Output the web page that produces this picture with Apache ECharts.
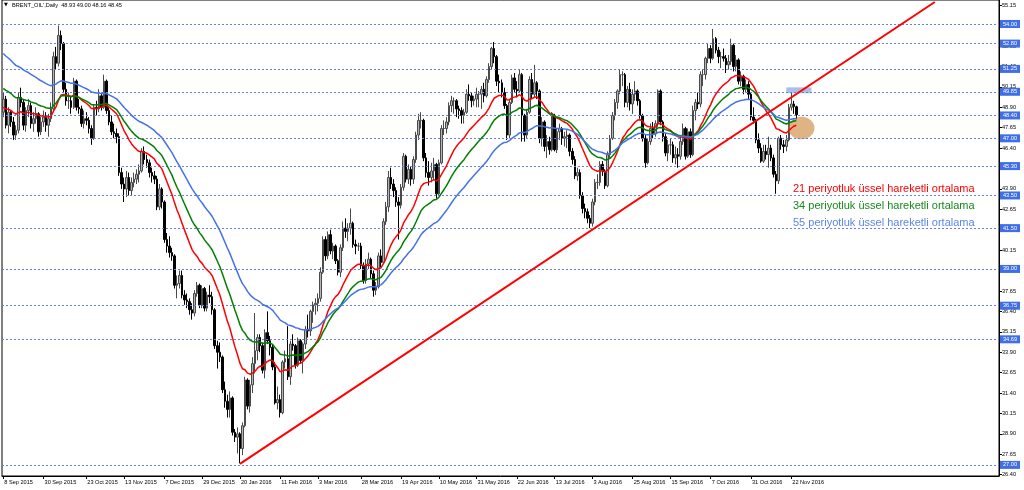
<!DOCTYPE html>
<html><head><meta charset="utf-8">
<script src="https://cdn.jsdelivr.net/npm/echarts@6/dist/echarts.min.js"></script>
<style>html,body{margin:0;padding:0;background:#fff}#c{width:1024px;height:490px}</style>
</head><body><div id="c"></div>
<script>
// ---------- DATA ----------
const symbolName = "BRENT_OIL',Daily";
const startDay = [2015, 8, 8];          // 8 Sep 2015
const holidays = ['2015-12-25', '2016-01-01'];
const slotCount = 396;                  // bars + empty space on the right
const xTickLabels = ['8 Sep 2015','30 Sep 2015','23 Oct 2015','13 Nov 2015','7 Dec 2015','29 Dec 2015','20 Jan 2016','11 Feb 2016','3 Mar 2016','28 Mar 2016','19 Apr 2016','10 May 2016','31 May 2016','22 Jun 2016','13 Jul 2016','3 Aug 2016','25 Aug 2016','15 Sep 2016','7 Oct 2016','31 Oct 2016','22 Nov 2016'];
const yTickValues = [26.40,27.65,28.90,30.15,31.40,32.65,33.90,35.15,36.40,37.65,38.90,40.15,41.40,42.65,43.90,45.15,46.40,47.65,48.90,50.15,51.40,52.65,53.90,55.15];
const levelPrices = [54.00,52.80,51.25,49.85,48.40,47.00,45.30,43.50,41.50,39.00,36.75,34.69,27.00];

const opens = [48.6,49.4,47.8,48.6,48.0,47.2,47.5,49.5,49.2,47.8,48.7,49.0,47.9,48.2,48.5,47.4,48.0,48.3,47.8,48.2,
48.8,52.0,51.6,53.3,52.8,50.0,49.3,49.3,48.9,50.5,48.9,48.8,47.9,48.2,48.1,47.6,47.0,48.9,48.8,49.6,
48.9,50.5,48.7,48.0,47.4,47.3,47.1,44.9,44.2,43.9,44.6,43.8,44.3,44.5,44.8,45.0,46.2,45.7,45.5,44.9,
44.7,44.5,42.8,43.9,43.1,40.8,40.4,40.0,39.8,38.0,38.1,38.6,37.4,37.1,37.0,36.5,36.3,37.5,38.0,36.8,
37.8,36.6,37.4,37.3,36.5,34.3,33.9,33.6,31.6,30.9,30.4,31.1,29.0,28.7,28.9,28.0,29.4,32.2,30.6,31.9,
33.2,34.0,34.8,34.3,32.8,35.1,34.6,34.2,33.0,30.8,31.0,30.2,33.3,33.5,32.4,34.4,34.3,33.1,34.6,33.4,
34.4,35.3,35.2,36.4,36.8,36.9,37.2,38.8,40.8,39.8,41.1,40.1,40.4,39.5,38.8,40.3,41.5,41.3,41.5,41.8,
40.5,40.4,40.4,39.2,38.3,39.3,39.6,38.7,37.7,37.9,39.8,39.4,41.9,42.8,44.6,44.2,43.8,43.1,42.9,44.0,
45.9,44.5,45.1,44.5,45.7,47.2,48.1,48.1,45.8,44.9,44.6,45.0,45.4,43.6,45.5,47.6,47.6,48.0,49.0,49.3,
49.3,48.8,48.7,48.4,48.6,49.7,49.6,49.3,49.4,49.7,49.7,50.0,49.6,50.6,51.4,52.5,52.0,50.5,50.4,49.8,
49.0,47.2,49.2,50.7,50.0,49.9,50.9,48.4,47.2,48.6,50.6,49.7,50.4,49.9,47.0,48.0,46.5,46.8,46.3,48.4,
46.3,47.4,47.6,47.0,47.1,47.2,46.2,45.7,44.7,44.9,43.5,42.7,42.5,42.1,41.8,43.1,44.3,44.3,45.4,45.0,
44.1,46.0,47.0,48.4,49.2,49.9,50.9,50.9,49.2,50.0,49.1,49.7,49.9,49.3,48.4,47.0,45.5,46.8,47.6,47.3,
47.9,49.9,48.0,47.1,46.1,46.6,46.6,45.8,46.0,45.9,46.8,47.6,45.9,47.4,46.0,48.7,49.2,49.1,50.9,50.9,
51.9,52.5,51.9,53.1,52.4,52.0,52.0,51.9,51.5,51.7,52.7,51.4,51.8,50.5,50.8,50.0,50.3,49.7,48.3,48.1,
46.9,46.4,45.6,46.2,46.0,46.4,45.8,44.8,44.4,47.0,46.6,46.5,46.9,48.9,49.1,48.93];

const highs = [49.8,49.6,48.9,48.7,48.3,47.8,49.8,50.1,49.4,48.9,49.4,49.2,48.6,48.9,48.6,48.3,48.7,48.6,48.5,49.2,
52.3,52.6,53.9,53.6,52.9,50.4,49.8,49.6,50.7,50.6,49.4,49.0,48.7,48.6,48.3,47.8,49.1,49.3,50.0,49.8,
50.9,50.6,48.9,48.4,47.9,47.6,47.3,45.2,44.6,45.0,44.9,44.6,44.9,45.1,45.4,46.4,46.5,46.0,45.7,45.2,
45.0,44.7,44.2,44.0,43.2,41.2,41.0,40.3,39.9,38.6,38.9,38.9,37.7,37.5,37.2,36.9,37.7,38.2,38.1,38.0,
37.9,37.6,38.0,37.6,36.6,34.6,34.5,33.7,32.1,31.3,31.5,31.2,29.2,29.3,29.0,29.6,32.4,32.3,32.2,33.6,
36.3,35.0,35.0,34.5,35.3,36.4,34.9,34.4,33.3,31.8,31.3,33.4,34.0,35.5,34.6,35.0,34.4,34.8,34.7,34.5,
35.5,36.2,36.5,37.0,37.2,37.5,39.1,41.0,41.0,41.3,41.4,40.6,40.5,39.6,40.5,41.9,42.1,41.8,42.7,41.9,
40.8,40.6,40.6,39.4,39.6,40.0,39.7,38.9,38.2,40.0,40.2,42.1,43.1,45.0,45.2,44.5,44.0,43.4,44.2,46.1,
46.0,45.4,45.3,45.9,47.4,48.5,48.6,48.2,46.1,45.6,45.5,45.8,45.5,45.7,47.8,48.1,48.3,49.2,49.6,49.5,
49.4,49.0,48.9,48.8,50.0,50.3,49.8,49.6,50.1,49.9,50.2,50.4,50.8,51.6,52.6,52.9,52.1,50.9,50.6,50.1,
49.1,49.4,50.9,51.0,50.5,51.2,51.0,48.5,48.8,50.8,51.0,51.5,50.5,50.0,48.3,48.1,47.2,47.1,48.6,48.5,
47.6,47.9,47.7,47.4,47.5,47.3,46.4,45.9,45.2,45.1,43.7,43.0,42.7,42.3,43.3,44.5,44.8,45.6,45.6,45.1,
46.2,47.2,48.6,49.4,50.0,51.2,51.1,51.0,50.2,50.4,50.0,50.5,50.0,49.4,48.5,47.2,47.0,47.9,48.0,48.1,
50.0,50.0,48.1,47.3,46.9,47.0,46.8,46.5,46.4,47.1,47.9,47.7,47.6,47.6,49.0,49.4,49.8,51.1,51.2,52.0,
52.8,52.7,53.7,53.2,52.6,52.3,52.5,52.1,52.1,53.1,52.8,52.1,51.9,51.1,50.9,50.6,50.5,49.8,48.9,48.2,
47.3,46.7,46.6,46.6,47.1,46.6,46.0,45.0,47.1,47.2,46.9,47.2,49.1,49.8,49.3,49.00];

const lows = [48.3,47.6,47.3,47.7,46.9,46.9,47.3,48.9,47.5,47.4,48.3,47.6,47.4,47.9,47.1,47.2,47.7,47.4,47.1,48.0,
48.7,51.2,51.4,52.4,49.8,49.0,48.8,48.5,48.8,48.7,48.5,47.7,47.6,47.8,47.3,46.6,46.9,48.4,48.6,48.7,
48.8,48.5,47.8,47.2,47.0,46.7,44.7,43.9,43.1,43.4,43.5,43.5,44.0,44.2,44.3,44.9,45.4,45.2,44.6,44.3,
44.2,42.6,42.6,42.7,40.6,40.0,39.7,39.5,37.8,37.2,37.8,37.2,36.8,36.6,36.2,35.9,36.1,37.3,36.6,36.6,
36.4,36.4,36.9,36.2,34.1,32.9,33.3,31.4,30.5,29.9,29.9,28.8,28.4,27.7,27.1,27.6,29.3,30.4,30.2,31.4,
32.6,33.4,33.9,32.6,32.3,34.4,33.7,32.8,30.7,30.4,29.9,30.1,32.9,32.2,31.9,34.0,32.9,33.0,33.2,32.6,
34.1,34.8,34.9,35.7,36.2,36.4,37.0,38.7,39.5,39.6,39.9,39.6,39.3,38.6,38.5,40.1,40.9,40.7,41.1,40.3,
39.9,40.1,39.0,38.1,38.1,39.0,38.4,37.3,37.4,37.8,39.1,39.3,41.7,42.5,43.9,43.4,42.8,40.8,42.7,43.8,
44.3,44.2,44.1,44.2,45.5,46.9,47.6,45.6,44.6,44.1,44.3,44.5,43.3,43.5,45.4,47.2,47.3,47.8,48.6,48.5,
48.3,48.2,47.9,47.9,48.5,49.3,48.9,49.0,48.9,48.9,48.8,49.2,49.5,50.4,51.2,51.6,50.2,49.8,49.5,48.8,
46.9,47.0,49.1,49.8,49.5,49.8,46.8,46.8,47.0,48.5,49.4,49.5,49.4,46.7,46.5,46.2,45.8,46.0,46.2,46.2,
46.1,46.9,46.6,46.5,46.4,45.9,45.4,44.5,44.4,43.3,42.4,42.1,41.8,41.5,41.6,42.9,43.9,44.1,44.7,43.9,
44.0,45.8,46.9,48.1,48.8,49.7,50.2,48.9,48.9,48.7,48.5,49.3,49.0,48.2,46.8,45.2,45.4,46.6,47.0,47.1,
47.7,47.8,46.8,45.9,45.6,46.0,45.5,45.4,45.2,45.7,46.6,45.7,45.8,45.8,45.9,48.1,48.8,48.9,50.2,50.6,
51.6,51.6,51.8,52.2,51.6,51.3,51.7,51.0,51.2,51.5,51.1,51.1,50.3,50.2,49.7,49.8,49.4,48.1,47.9,46.7,
46.1,45.5,45.5,45.7,45.2,45.6,44.6,43.6,44.2,46.3,46.1,46.2,46.8,48.7,48.5,48.16];

const closes = [49.4,47.8,48.6,48.0,47.2,47.5,49.5,49.2,47.8,48.7,49.0,47.9,48.2,48.5,47.4,48.0,48.3,47.8,48.2,48.8,
52.0,51.6,53.3,52.8,50.0,49.3,49.3,48.9,50.5,48.9,48.8,47.9,48.2,48.1,47.6,47.0,48.9,48.8,49.6,48.9,
50.5,48.7,48.0,47.4,47.3,47.1,44.9,44.2,43.9,44.6,43.8,44.3,44.5,44.8,45.0,46.2,45.7,45.5,44.9,44.7,
44.5,42.8,43.9,43.1,40.8,40.4,40.0,39.8,38.0,38.1,38.6,37.4,37.1,37.0,36.5,36.3,37.5,38.0,36.8,37.8,
36.6,37.4,37.3,36.5,34.3,33.9,33.6,31.6,30.9,30.4,31.1,29.0,28.7,28.9,28.0,29.4,32.2,30.6,31.9,33.2,
34.0,34.8,34.3,32.8,35.1,34.6,34.2,33.0,30.8,31.0,30.2,33.3,33.5,32.4,34.4,34.3,33.1,34.6,33.4,34.4,
35.3,35.2,36.4,36.8,36.9,37.2,38.8,40.8,39.8,41.1,40.1,40.4,39.5,38.8,40.3,41.5,41.3,41.5,41.8,40.5,
40.4,40.4,39.2,38.3,39.3,39.6,38.7,37.7,37.9,39.8,39.4,41.9,42.8,44.6,44.2,43.8,43.1,42.9,44.0,45.9,
44.5,45.1,44.5,45.7,47.2,48.1,48.1,45.8,44.9,44.6,45.0,45.4,43.6,45.5,47.6,47.6,48.0,49.0,49.3,49.3,
48.8,48.7,48.4,48.6,49.7,49.6,49.3,49.4,49.7,49.7,50.0,49.6,50.6,51.4,52.5,52.0,50.5,50.4,49.8,49.0,
47.2,49.2,50.7,50.0,49.9,50.9,48.4,47.2,48.6,50.6,49.7,50.4,49.9,47.0,48.0,46.5,46.8,46.3,48.4,46.3,
47.4,47.6,47.0,47.1,47.2,46.2,45.7,44.7,44.9,43.5,42.7,42.5,42.1,41.8,43.1,44.3,44.3,45.4,45.0,44.1,
46.0,47.0,48.4,49.2,49.9,50.9,50.9,49.2,50.0,49.1,49.7,49.9,49.3,48.4,47.0,45.5,46.8,47.6,47.3,47.9,
49.9,48.0,47.1,46.1,46.6,46.6,45.8,46.0,45.9,46.8,47.6,45.9,47.4,46.0,48.7,49.2,49.1,50.9,50.9,51.9,
52.5,51.9,53.1,52.4,52.0,52.0,51.9,51.5,51.7,52.7,51.4,51.8,50.5,50.8,50.0,50.3,49.7,48.3,48.1,46.9,
46.4,45.6,46.2,46.0,46.4,45.8,44.8,44.4,47.0,46.6,46.5,46.9,48.9,49.1,48.95,48.45];

// EMA values just before the first visible bar
const emaSpecs = [
  {period: 21, seed: 48.85, color: '#ff0000'},
  {period: 34, seed: 50.10, color: '#008000'},
  {period: 55, seed: 52.30, color: '#4472e6'}
];
const emaLegend = ['21 periyotluk üssel hareketli ortalama','34 periyotluk üssel hareketli ortalama','55 periyotluk üssel hareketli ortalama'];
const emaLegendColors = ['#ff0000','#15891a','#5a86ea'];

// trendline from the January 2016 low (bar index, price)
const trendPoints = [[94, 27.06], [370, 55.35]];
// annotations in data units (bar index, price)
const resistBox = {x0: 311, x1: 321, yLow: 49.76, yHigh: 50.12};
const supportEllipse = [317, 47.63, 5.2, 0.69]; // centre bar, centre price, radius in bars, radius in price

// ---------- BUILD ----------
const MONTHS = ['Jan','Feb','Mar','Apr','May','Jun','Jul','Aug','Sep','Oct','Nov','Dec'];
const categories = [];
(function () {
  const d = new Date(Date.UTC(startDay[0], startDay[1], startDay[2]));
  while (categories.length < slotCount) {
    const wd = d.getUTCDay();
    const iso = d.toISOString().slice(0, 10);
    if (wd !== 0 && wd !== 6 && holidays.indexOf(iso) < 0) {
      categories.push(d.getUTCDate() + ' ' + MONTHS[d.getUTCMonth()] + ' ' + d.getUTCFullYear());
    }
    d.setUTCDate(d.getUTCDate() + 1);
  }
})();
const tickSet = new Set(xTickLabels);
const candleData = closes.map((c, i) => [opens[i], c, lows[i], highs[i]]);
function ema(period, seed) {
  const a = 2 / (period + 1);
  let prev = seed;
  return closes.map(c => { prev = prev + a * (c - prev); return +prev.toFixed(4); });
}
const last = closes.length - 1;
const titleText = symbolName + '  ' + [opens[last], highs[last], lows[last], closes[last]].map(v => v.toFixed(2)).join(' ');

const FONT = 'Liberation Sans';
const SMALL = 5.6;

const chart = echarts.init(document.getElementById('c'), null, {renderer: 'canvas'});
const series = [
  {
    type: 'candlestick',
    data: candleData,
    barWidth: 2,
    z: 3,
    itemStyle: {color: '#b4b4b4', color0: '#000000', borderColor: '#4a4a4a', borderColor0: '#000000', borderWidth: 1},
    markLine: {
      silent: true, symbol: ['none', 'none'], animation: false,
      lineStyle: {type: [2, 2], color: '#6480e6', width: 1},
      label: {
        show: true, position: 'end', distance: 1,
        formatter: p => Number(p.value).toFixed(2),
        backgroundColor: '#3f6fe6', color: '#ffffff', fontSize: SMALL, fontFamily: FONT,
        padding: [1, 3, 0, 3], lineHeight: 7
      },
      data: levelPrices.map(v => ({yAxis: v}))
    },
    markArea: {
      silent: true,
      itemStyle: {color: 'rgba(100,140,210,0.55)'},
      data: [[{xAxis: categories[resistBox.x0], yAxis: resistBox.yHigh}, {xAxis: categories[resistBox.x1], yAxis: resistBox.yLow}]]
    }
  },
  {
    type: 'custom',
    z: 4,
    silent: true,
    data: [supportEllipse],
    encode: {x: 0, y: 1},
    renderItem: function (params, api) {
      const c = api.coord([api.value(0), api.value(1)]);
      const bw = api.size([1, 0])[0];
      const rx = bw * api.value(2);
      const ry = api.size([0, api.value(3)])[1];
      const pts = [];
      for (let k = 0; k < 60; k++) {
        const t = k / 60 * Math.PI * 2;
        pts.push([c[0] + rx * Math.cos(t), c[1] + ry * Math.sin(t)]);
      }
      return {type: 'polygon', shape: {points: pts}, style: {fill: 'rgba(200,130,50,0.6)'}};
    }
  }
];
emaSpecs.forEach(s => {
  series.push({
    type: 'line', data: ema(s.period, s.seed), showSymbol: false, z: 5, silent: true,
    lineStyle: {color: s.color, width: 1.5}
  });
});
series.push({
  type: 'line', data: trendPoints, showSymbol: false, z: 6, silent: true,
  lineStyle: {color: '#ff0000', width: 2}
});

const graphics = [
  {type: 'text', left: 4, top: 2, style: {text: '▼', fontSize: 5, fill: '#000', fontFamily: 'DejaVu Sans'}},
  {type: 'text', left: 12, top: 2.5, style: {text: titleText, fontSize: SMALL, fill: '#000', fontFamily: FONT}}
];
emaLegend.forEach((t, i) => {
  graphics.push({type: 'text', left: 793, top: 183 + i * 17, style: {text: t, fontSize: 11, fill: emaLegendColors[i], fontFamily: FONT}});
});

chart.setOption({
  animation: false,
  backgroundColor: '#ffffff',
  grid: {left: 2, right: 25, top: 0, bottom: 14, show: true, borderColor: '#000', borderWidth: 1, backgroundColor: '#fff'},
  xAxis: {
    type: 'category', data: categories, boundaryGap: true,
    axisLine: {show: true, lineStyle: {color: '#000', width: 1}},
    axisTick: {show: true, alignWithLabel: true, length: 3, interval: (i, v) => tickSet.has(v), lineStyle: {color: '#000'}},
    axisLabel: {interval: (i, v) => tickSet.has(v), align: 'left', fontSize: SMALL, color: '#000', fontFamily: FONT, margin: 3, padding: [0, 0, 0, 1]},
    splitLine: {show: false}
  },
  yAxis: {
    type: 'value', position: 'right', min: 26.32, max: 55.47, scale: true,
    axisLine: {show: true, lineStyle: {color: '#000', width: 1}},
    axisTick: {show: true, length: 3, customValues: yTickValues, lineStyle: {color: '#000'}},
    axisLabel: {customValues: yTickValues, formatter: v => Number(v).toFixed(2), fontSize: SMALL, color: '#000', fontFamily: FONT, margin: 3},
    splitLine: {show: false}
  },
  graphic: graphics,
  series: series
});
</script></body></html>
